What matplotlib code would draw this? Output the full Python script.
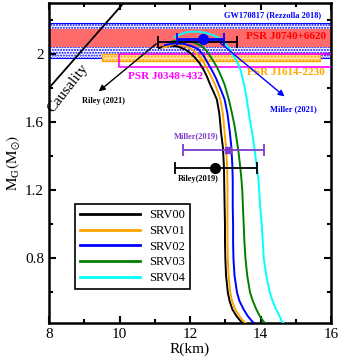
import numpy as np
import matplotlib
matplotlib.use('Agg')
import matplotlib.pyplot as plt

plt.rcParams['font.family'] = ['Liberation Serif', 'DejaVu Serif']
plt.rcParams['mathtext.fontset'] = 'stix'
plt.rcParams['hatch.linewidth'] = 1.0

# ---- mass-radius curves (R in km, M in Msun) ----
labels = ['SRV00', 'SRV01', 'SRV02', 'SRV03', 'SRV04']
colors = ['black', 'orange', 'blue', 'green', 'cyan']

R_srv00 = [11.12, 11.38, 11.62, 11.86, 12.01, 12.14, 12.27, 12.38, 12.48, 12.57, 12.67, 12.76, 12.83,
           12.88, 12.93, 12.96, 12.97, 12.98, 12.99, 12.99, 13.00, 13.02, 13.07, 13.12, 13.20, 13.32, 13.44, 13.60]
M_srv00 = [2.035, 2.050, 2.046, 2.027, 2.005, 1.978, 1.946, 1.909, 1.867, 1.820, 1.776, 1.732, 1.650,
           1.537, 1.454, 1.340, 1.220, 1.100, 1.000, 0.900, 0.800, 0.700, 0.600, 0.550, 0.500, 0.460, 0.430, 0.400]
R_srv01 = [11.24, 11.57, 11.82, 12.05, 12.20, 12.33, 12.43, 12.52, 12.62, 12.71, 12.79, 12.86, 12.93,
           12.98, 13.02, 13.05, 13.06, 13.06, 13.06, 13.06, 13.07, 13.09, 13.14, 13.19, 13.28, 13.40, 13.52, 13.68]
M_srv01 = [2.037, 2.060, 2.050, 2.027, 2.000, 1.968, 1.935, 1.899, 1.860, 1.820, 1.776, 1.732, 1.650,
           1.537, 1.454, 1.340, 1.220, 1.100, 1.000, 0.900, 0.800, 0.700, 0.600, 0.550, 0.500, 0.460, 0.430, 0.400]
R_srv02 = [11.29, 11.55, 11.81, 12.05, 12.24, 12.37, 12.47, 12.57, 12.66, 12.74, 12.81, 12.90, 12.98,
           13.06, 13.13, 13.17, 13.20, 13.21, 13.21, 13.22, 13.22, 13.23, 13.26, 13.33, 13.40, 13.52, 13.64, 13.76, 13.92]
M_srv02 = [2.053, 2.062, 2.060, 2.046, 2.027, 1.995, 1.958, 1.922, 1.889, 1.855, 1.820, 1.776, 1.732,
           1.650, 1.537, 1.454, 1.340, 1.260, 1.100, 1.000, 0.900, 0.800, 0.700, 0.600, 0.550, 0.500, 0.460, 0.430, 0.400]
R_srv03 = [11.49, 11.75, 11.95, 12.15, 12.33, 12.46, 12.57, 12.67, 12.77, 12.88, 12.98, 13.10, 13.19,
           13.26, 13.32, 13.37, 13.41, 13.45, 13.48, 13.50, 13.52, 13.54, 13.57, 13.62, 13.70, 13.78,
           13.88, 13.98, 14.08, 14.24]
M_srv03 = [2.074, 2.080, 2.076, 2.064, 2.046, 2.020, 1.987, 1.955, 1.919, 1.870, 1.820, 1.732, 1.650,
           1.580, 1.500, 1.430, 1.360, 1.280, 1.200, 1.100, 1.000, 0.900, 0.800, 0.700, 0.600, 0.550,
           0.500, 0.460, 0.430, 0.400]
R_srv04 = [11.57, 11.72, 11.90, 12.05, 12.25, 12.43, 12.62, 12.80, 12.95, 13.09, 13.20, 13.30, 13.37,
           13.44, 13.50, 13.56, 13.61, 13.69, 13.76, 13.82, 13.89, 13.94, 13.99, 14.03, 14.06, 14.09,
           14.16, 14.26, 14.34, 14.44, 14.54, 14.60, 14.75]
M_srv04 = [2.100, 2.115, 2.128, 2.131, 2.130, 2.125, 2.113, 2.096, 2.070, 2.037, 2.000, 1.965, 1.938,
           1.900, 1.850, 1.790, 1.732, 1.620, 1.537, 1.454, 1.340, 1.260, 1.100, 1.000, 0.900, 0.800,
           0.700, 0.600, 0.550, 0.500, 0.460, 0.430, 0.400]

R_curves = [R_srv00, R_srv01, R_srv02, R_srv03, R_srv04]
M_curves = [M_srv00, M_srv01, M_srv02, M_srv03, M_srv04]

# ---- observational constraints ----
gw_band = [1.978, 2.184]        # GW170817 (Rezzolla 2018)
j0740_band = [2.040, 2.145]     # PSR J0740+6620
j1614_R = [9.51, 15.69]
j1614_M = [1.958, 2.000]
j0348_R = [9.99, 16.3]
j0348_M = [1.922, 2.000]

causal_R = [8.0, 10.12]
causal_M = [1.80, 2.30]

# NICER points: (R, M, R_low, R_high)
riley21 = [12.36, 2.072, 11.10, 13.34]
miller21 = [12.36, 2.086, 11.62, 12.96]
miller19 = [13.07, 1.437, 11.79, 14.10]
riley19 = [12.72, 1.330, 11.57, 13.89]

fig = plt.figure(figsize=(3.4, 3.59), dpi=100)
ax = fig.add_axes([0.144, 0.100, 0.830, 0.892])

# bands
ax.axhspan(gw_band[0], gw_band[1], facecolor='white', edgecolor='blue',
           hatch='......', lw=0.8, zorder=1)
ax.axhspan(j0740_band[0], j0740_band[1], facecolor='#ff6b6b', edgecolor='none', zorder=2)
ax.fill_between(j1614_R, j1614_M[0], j1614_M[1], facecolor='#ffe4a8',
                edgecolor='orange', hatch='.....', lw=1.0, zorder=3)
ax.fill_between(j0348_R, j0348_M[0], j0348_M[1], facecolor='none',
                edgecolor='magenta', lw=1.2, zorder=3)

ax.plot(causal_R, causal_M, color='black', lw=1.3, zorder=4)
ax.text(8.55, 1.80, 'Causality', rotation=52, fontsize=11,
        ha='center', va='center', zorder=5)

# M-R curves
for R, M, c, lab in zip(R_curves, M_curves, colors, labels):
    ax.plot(R, M, color=c, lw=1.4, label=lab, zorder=5)

# error bars
ax.errorbar(riley21[0], riley21[1], xerr=[[riley21[0] - riley21[2]], [riley21[3] - riley21[0]]],
            color='black', lw=1.3, capsize=4, capthick=1.3, zorder=6)
ax.errorbar(miller21[0], miller21[1], xerr=[[miller21[0] - miller21[2]], [miller21[3] - miller21[0]]],
            color='blue', lw=2.0, capsize=4, capthick=1.3, fmt='o', ms=7, zorder=7)
ax.errorbar(miller19[0], miller19[1], xerr=[[miller19[0] - miller19[2]], [miller19[3] - miller19[0]]],
            color='#7d3cc8', lw=1.3, capsize=4, capthick=1.3, fmt='s', ms=5, zorder=7)
ax.errorbar(riley19[0], riley19[1], xerr=[[riley19[0] - riley19[2]], [riley19[3] - riley19[0]]],
            color='black', lw=1.3, capsize=4, capthick=1.3, fmt='o', ms=7, zorder=7)

# arrows
ax.annotate('', xy=(9.35, 1.77), xytext=(11.10, 2.07),
            arrowprops=dict(arrowstyle='-|>', color='black', lw=1.0, mutation_scale=9), zorder=8)
ax.annotate('', xy=(14.74, 1.74), xytext=(12.80, 2.075),
            arrowprops=dict(arrowstyle='-|>', color='blue', lw=1.0, mutation_scale=9), zorder=8)

# annotations
ax.text(14.35, 2.23, 'GW170817 (Rezzolla 2018)', color='blue', fontsize=6,
        fontweight='bold', ha='center', va='center')
ax.text(13.58, 2.10, 'PSR J0740+6620', color='red', fontsize=8,
        fontweight='bold', ha='left', va='center')
ax.text(13.61, 1.889, 'PSR J1614-2230', color='orange', fontsize=8,
        fontweight='bold', ha='left', va='center')
ax.text(10.25, 1.869, 'PSR J0348+432', color='magenta', fontsize=8,
        fontweight='bold', ha='left', va='center')
ax.text(9.55, 1.725, 'Riley (2021)', color='black', fontsize=6,
        fontweight='bold', ha='center', va='center')
ax.text(14.94, 1.678, 'Miller (2021)', color='blue', fontsize=6,
        fontweight='bold', ha='center', va='center')
ax.text(12.16, 1.52, 'Miller(2019)', color='#7d3cc8', fontsize=6,
        fontweight='bold', ha='center', va='center')
ax.text(12.23, 1.265, 'Riley(2019)', color='black', fontsize=6,
        fontweight='bold', ha='center', va='center')

ax.set_xlim(8, 16)
ax.set_ylim(0.42, 2.3)
ax.set_xticks([8, 10, 12, 14, 16])
ax.set_xticks(np.arange(9, 16, 2), minor=True)
ax.set_yticks([0.8, 1.2, 1.6, 2.0])
ax.set_yticklabels(['0.8', '1.2', '1.6', '2'])
ax.set_yticks([0.6, 1.0, 1.4, 1.8, 2.2], minor=True)
ax.tick_params(which='both', direction='in', top=True, right=True, labelsize=11, width=1.5)
ax.tick_params(which='major', length=5)
ax.tick_params(which='minor', length=3)
for s in ax.spines.values():
    s.set_linewidth(1.8)

ax.set_xlabel('R(km)', fontsize=11, labelpad=1)
ax.set_ylabel(r'$\mathrm{M_G(M_{\odot})}$', fontsize=11, labelpad=2)

leg = ax.legend(loc='lower left', bbox_to_anchor=(0.092, 0.106), borderaxespad=0,
                fontsize=9, handlelength=4.8, handletextpad=0.7, labelspacing=0.3,
                fancybox=False, edgecolor='black', framealpha=1)
leg.get_frame().set_linewidth(1.2)
for line in leg.get_lines():
    line.set_linewidth(2.0)

fig.savefig('out.png', dpi=100)
